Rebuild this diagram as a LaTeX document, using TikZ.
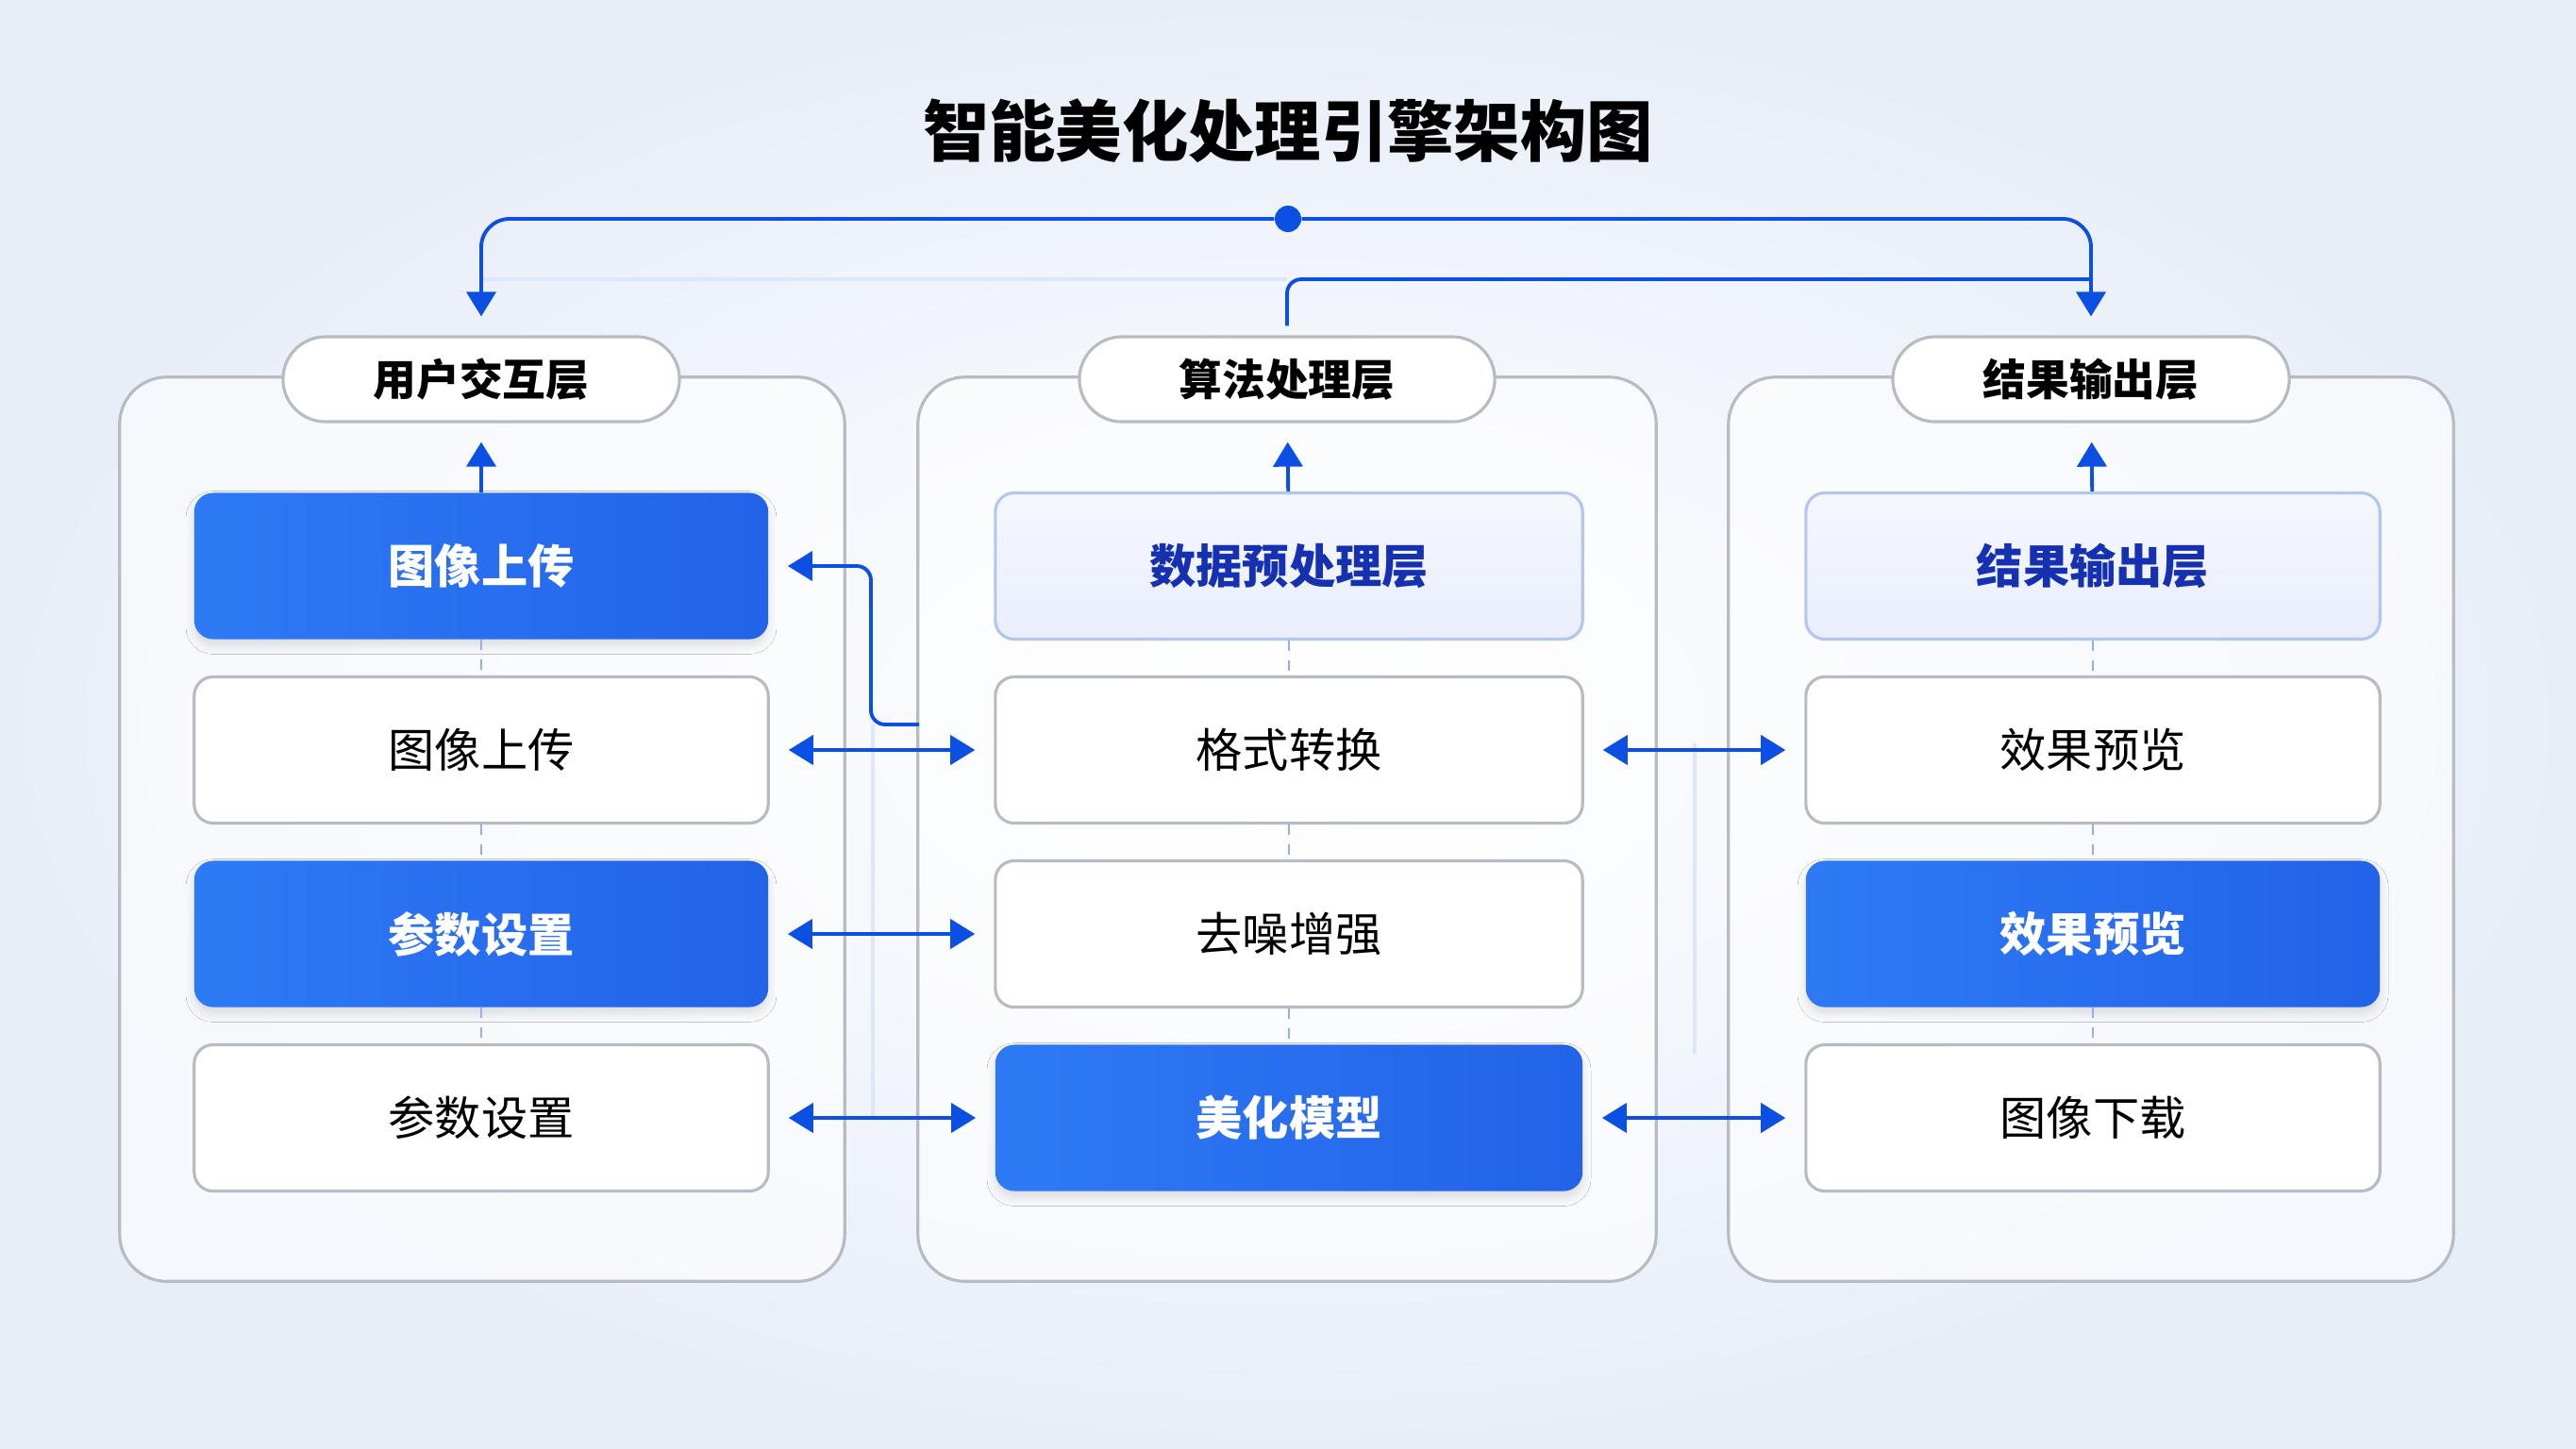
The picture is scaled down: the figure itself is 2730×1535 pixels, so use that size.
\documentclass[tikz,border=0pt]{standalone}
\usepackage{fontspec}
\setmainfont{Noto Sans CJK SC}
\usepackage{tikz}
\usetikzlibrary{arrows.meta,calc,positioning,shadows.blur}

\definecolor{linkblue}{HTML}{0B4FE3}
\definecolor{boxblueA}{HTML}{2E7AF5}
\definecolor{boxblueB}{HTML}{2263E8}
\definecolor{paleblue}{HTML}{E9EEFB}
\definecolor{paleedge}{HTML}{B3C6EE}
\definecolor{paletext}{HTML}{1530B0}
\definecolor{edgegray}{HTML}{B7BBC3}
\definecolor{bgblue}{HTML}{E8EEF8}

\begin{document}
\begin{tikzpicture}
[
	              x = 0.01cm,
	              y = -0.01cm,
	             >= {Triangle[length=0.26cm,width=0.31cm]},
	  panel/.style = { draw=edgegray, line width=0.9pt, fill=white, fill opacity=0.6, rounded corners=0.5cm, minimum height=9.58cm },
	  layer/.style = { draw=edgegray, line width=0.9pt, fill=white, rounded corners=0.45cm, minimum width=4.2cm, minimum height=0.9cm, font=\fontsize{13}{15}\selectfont\bfseries },
	   unit/.style = { rounded corners=0.2cm, minimum width=6.08cm, minimum height=1.55cm, font=\fontsize{14}{16}\selectfont },
	  plain/.style = { unit, draw=edgegray, line width=0.9pt, fill=white },
	   pale/.style = { unit, draw=paleedge, line width=0.9pt, top color=paleblue!45!white, bottom color=paleblue, text=paletext, font=\fontsize{14}{16}\selectfont\bfseries },
	 accent/.style = { unit, left color=boxblueA, right color=boxblueB, text=white, font=\fontsize{14}{16}\selectfont\bfseries,
	                   blur shadow={shadow xshift=0pt, shadow yshift=-2pt, shadow blur steps=6, shadow blur radius=2.5pt, shadow opacity=12} },
	   link/.style = { draw=linkblue, line width=1.1pt },
	 linkdash/.style = { draw=linkblue!45, line width=0.6pt, dashed },
	  faint/.style = { draw=linkblue!14, line width=1pt }
]
	% background
	\shade [inner color=white, outer color=bgblue] (0,0) rectangle (2730,1535);
	\useasboundingbox (0,0) rectangle (2730,1535);

	\node (title) at (1365,139) {\fontsize{20}{24}\selectfont\bfseries 智能美化处理引擎架构图};

	% panels
	\node (pu) at  (511,879) [panel, minimum width=7.68cm] {};
	\node (pa) at (1364,879) [panel, minimum width=7.82cm] {};
	\node (pr) at (2216,879) [panel, minimum width=7.68cm] {};

	% layer headers
	\node (lu) at  (510,402) [layer]                      {用户交互层};
	\node (la) at (1364,402) [layer, minimum width=4.4cm] {算法处理层};
	\node (lr) at (2216,402) [layer]                      {结果输出层};

	% user column
	\node (u1) at (510,600)  [accent] {图像上传};
	\node (u2) at (510,795)  [plain]  {图像上传};
	\node (u3) at (510,990)  [accent] {参数设置};
	\node (u4) at (510,1185) [plain]  {参数设置};

	% algorithm column
	\node (a1) at (1366,600)  [pale,   minimum width=6.22cm] {数据预处理层};
	\node (a2) at (1366,795)  [plain,  minimum width=6.22cm] {格式转换};
	\node (a3) at (1366,990)  [plain,  minimum width=6.22cm] {去噪增强};
	\node (a4) at (1366,1185) [accent, minimum width=6.22cm] {美化模型};

	% result column
	\node (r1) at (2218,600)  [pale]   {结果输出层};
	\node (r2) at (2218,795)  [plain]  {效果预览};
	\node (r3) at (2218,990)  [accent] {效果预览};
	\node (r4) at (2218,1185) [plain]  {图像下载};

	% top distribution
	\node (hub) at (1365,232) [circle, fill=linkblue, inner sep=0pt, minimum size=0.28cm] {};
	\coordinate (ljoin) at (510,296);
	\coordinate (rjoin) at (2216,296);
	\draw [faint] (ljoin) -- (la.north |- ljoin);
	\draw [link, ->, rounded corners=0.3cm, shorten >=0.2cm] (hub) -| (lu.north);
	\draw [link, ->, rounded corners=0.3cm, shorten >=0.2cm] (hub) -| (lr.north);
	\draw [link, rounded corners=0.15cm, shorten <=0.1cm] (la.north) |- (rjoin);

	% up to the headers
	\draw [link, ->, shorten >=0.2cm] (u1) -- (lu);
	\draw [link, ->, shorten >=0.2cm] (a1) -- (la);
	\draw [link, ->, shorten >=0.2cm] (r1) -- (lr);

	% inside the columns
	\foreach \c in {u,a,r}
	{
		\draw [linkdash] (\c1) -- (\c2);
		\draw [linkdash] (\c2) -- (\c3);
		\draw [linkdash] (\c3) -- (\c4);
	}

	% faint guides between panels
	\coordinate (g1) at (925,768);
	\coordinate (g2) at (925,1185);
	\coordinate (g3) at (1796,788);
	\coordinate (g4) at (1796,1117);
	\draw [faint] (g1) -- (g2);
	\draw [faint] (g3) -- (g4);

	% links between columns
	\draw [link, <->, shorten >=0.2cm, shorten <=0.2cm] (u2) -- (a2);
	\draw [link, <->, shorten >=0.2cm, shorten <=0.2cm] (u3) -- (a3);
	\draw [link, <->, shorten >=0.2cm, shorten <=0.2cm] (u4) -- (a4);
	\draw [link, <->, shorten >=0.2cm, shorten <=0.2cm] (a2) -- (r2);
	\draw [link, <->, shorten >=0.2cm, shorten <=0.2cm] (a4) -- (r4);

	% feedback to upload
	\coordinate (tap)  at (974,768);
	\coordinate (bend) at (923,600);
	\draw [link, ->, rounded corners=0.15cm, shorten >=0.2cm] (tap) -| (bend) -- (u1.east);

\end{tikzpicture}
\end{document}
